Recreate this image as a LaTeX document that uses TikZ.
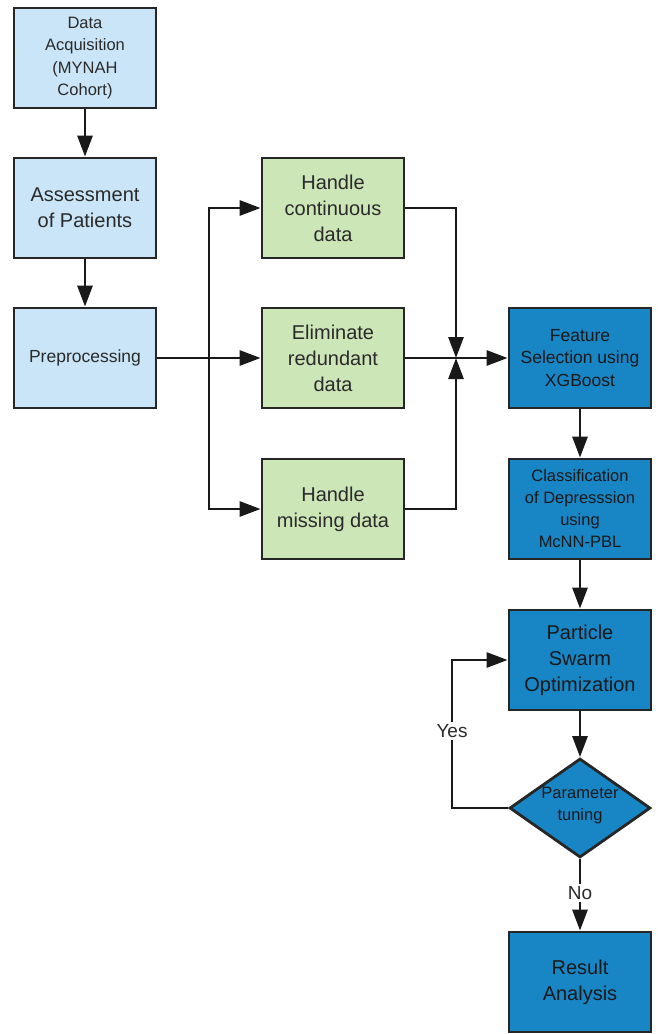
\documentclass[tikz,border=0pt]{standalone}
\usepackage{fontspec}
\setmainfont{Liberation Sans}
\usetikzlibrary{arrows.meta,shapes.geometric}
\definecolor{lblue}{HTML}{C9E5F7}
\definecolor{lgreen}{HTML}{CDE6B8}
\definecolor{dblue}{HTML}{1885C5}
\definecolor{txtgray}{HTML}{2A2A2A}
\tikzset{
  box/.style={draw=black!85, line width=2.8pt, minimum width=142pt, minimum height=100pt, inner sep=2pt, align=center, text=txtgray},
  bluebox/.style={box, fill=lblue},
  greenbox/.style={box, fill=lgreen},
  darkbox/.style={box, fill=dblue, text=black!90},
  decision/.style={diamond, draw=black!85, line width=2.8pt, fill=dblue, minimum width=141pt, minimum height=99pt, inner sep=0pt},
  arr/.style={line width=2.8pt, draw=black!90, -{Triangle[length=21pt,width=15pt]}},
  lbl/.style={fill=white, inner sep=2pt, text=txtgray, font=\fontsize{19}{22}\selectfont},
  fa/.style={font=\fontsize{16.5}{22.5}\selectfont},
  fb/.style={font=\fontsize{20}{26}\selectfont},
  fc/.style={font=\fontsize{17.5}{22.5}\selectfont},
}
\begin{document}
\begin{tikzpicture}[x=1pt,y=-1pt]
\useasboundingbox (0,0) rectangle (657,1034);
% left column
\node[bluebox,fa] (da) at (85,58) {Data\\Acquisition\\(MYNAH\\Cohort)};
\node[bluebox,fb] (as) at (85,208) {Assessment\\of Patients};
\node[bluebox,fc] (pp) at (85,358) {Preprocessing};
% middle column
\node[greenbox,fb] (hc) at (333,208) {Handle\\continuous\\data};
\node[greenbox,fb] (el) at (333,358) {Eliminate\\redundant\\data};
\node[greenbox,fb] (hm) at (333,509) {Handle\\missing data};
% right column
\node[darkbox,fc] (fs) at (580,358) {Feature\\Selection using\\XGBoost};
\node[darkbox,font=\fontsize{16.5}{22}\selectfont] (cl) at (580,509) {Classification\\of Depresssion\\using\\McNN-PBL};
\node[darkbox,fb] (ps) at (580,660) {Particle\\Swarm\\Optimization};
\node[decision] (dm) at (580,808) {};
\node[font=\fontsize{16.5}{22}\selectfont, align=center, text=black!90] (dt) at (580,806) {Parameter\\tuning};
\node[darkbox,fb] (ra) at (580,982) {Result\\Analysis};
% helper coordinates
\coordinate (bx) at (209,358);
\coordinate (jn) at (456,358);
\coordinate (lp) at (452,660);
% connectors
\draw[arr] (da.south) -- (as.north);
\draw[arr] (as.south) -- (pp.north);
\draw[arr] (pp.east) -- (el.west);
\draw[arr] (bx) |- (hc.west);
\draw[arr] (bx) |- (hm.west);
\draw[arr] (hc.east) -| (jn);
\draw[arr] (hm.east) -| (jn);
\draw[arr] (el.east) -- (fs.west);
\draw[arr] (fs.south) -- (cl.north);
\draw[arr] (cl.south) -- (ps.north);
\draw[arr] (ps.south) -- (dm.north);
\draw[arr] (dm.west) -| (lp) -- (ps.west);
\node[lbl] (yes) at (452,731) {Yes};
\draw[arr] (dm.south) -- (ra.north);
\node[lbl] (no) at (580,893) {No};
\end{tikzpicture}
\end{document}
